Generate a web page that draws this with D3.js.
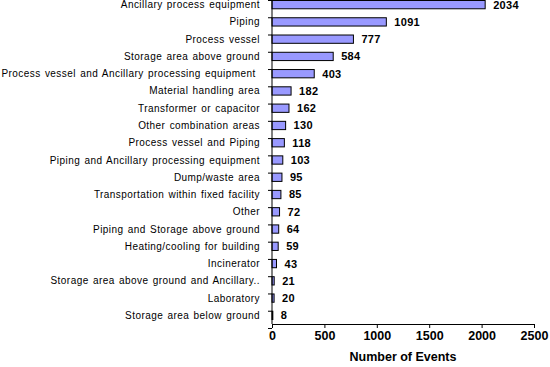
<!DOCTYPE html>
<meta charset="utf-8">
<style>
body { margin: 0; background: #fff; }
svg text { font-family: "Liberation Sans", Arial, sans-serif; fill: #000; }
.cat text { font-size: 10px; letter-spacing: 0.45px; word-spacing: 1px; }
.val { font-size: 11px; font-weight: bold; letter-spacing: 0.3px; }
.xax text { font-size: 12.5px; font-weight: bold; }
.bar { fill: #9999ff; stroke: #000; stroke-width: 1px; }
</style>
<body>
<script src="https://d3js.org/d3.v7.min.js"></script>
<svg id="chart" width="550" height="367"></svg>
<script>
// data
var categories = ["Ancillary process equipment", "Piping", "Process vessel", "Storage area above ground",
  "Process vessel and Ancillary processing equipment ", "Material handling area", "Transformer or capacitor",
  "Other combination areas", "Process vessel and Piping", "Piping and Ancillary processing equipment",
  "Dump/waste area", "Transportation within fixed facility", "Other", "Piping and Storage above ground",
  "Heating/cooling for building", "Incinerator", "Storage area above ground and Ancillary..",
  "Laboratory", "Storage area below ground"];
var events = [2034, 1091, 777, 584, 403, 182, 162, 130, 118, 103, 95, 85, 72, 64, 59, 43, 21, 20, 8];
var xTicks = [0, 500, 1000, 1500, 2000, 2500];

var margin = {top: -4, left: 272, right: 16, bottom: 43};
var width = 550 - margin.left - margin.right,
    height = 367 - margin.top - margin.bottom;

var svg = d3.select('#chart').append('g')
    .attr('transform', 'translate(' + margin.left + ',' + margin.top + ')');

var x = d3.scaleLinear().domain([0, 2500]).range([0, width]);
var y = d3.scaleBand().domain(categories).range([0, height]).paddingInner(0.52).paddingOuter(0.26);

// bars
svg.selectAll('.bar').data(events).enter().append('rect')
  .attr('class', 'bar')
  .attr('x', 0)
  .attr('y', function(d, i) { return y(categories[i]); })
  .attr('width', function(d) { return x(d); })
  .attr('height', y.bandwidth());

// value labels
svg.selectAll('.val').data(events).enter().append('text')
  .attr('class', 'val')
  .attr('x', function(d) { return x(d) + 8; })
  .attr('y', function(d, i) { return y(categories[i]) + y.bandwidth() / 2; })
  .attr('dy', '0.36em')
  .text(function(d) { return d; });

// left axis: ticks between categories
var yAx = svg.append('g').attr('class', 'cat');
yAx.append('line').attr('x1', 0).attr('x2', 0).attr('y1', 0).attr('y2', height).attr('stroke', '#000');
var step = y.step();
var edges = d3.range(categories.length + 1).map(function(i) { return y(categories[0]) - y.paddingOuter() * step + step * y.paddingInner() / 2 + i * step; });
yAx.selectAll('.tk').data(edges).enter().append('line')
  .attr('x1', -4).attr('x2', 0)
  .attr('y1', function(d) { return d; }).attr('y2', function(d) { return d; })
  .attr('stroke', '#000');
yAx.selectAll('.lab').data(categories).enter().append('text')
  .attr('x', -12)
  .attr('y', function(d) { return y(d) + y.bandwidth() / 2; })
  .attr('dy', '0.35em')
  .attr('text-anchor', 'end')
  .style('white-space', 'pre')
  .text(function(d) { return d; });

// bottom axis
var xAx = svg.append('g').attr('class', 'xax')
  .attr('transform', 'translate(0,' + height + ')')
  .call(d3.axisBottom(x).tickValues(xTicks).tickSize(4).tickPadding(3).tickFormat(d3.format('d')));
xAx.select('.domain').attr('stroke', '#000');
xAx.selectAll('text').attr('font-family', null).attr('font-size', null);

svg.append('text')
  .attr('x', width / 2)
  .attr('y', height + 37)
  .attr('text-anchor', 'middle')
  .style('font-size', '12.5px')
  .style('font-weight', 'bold')
  .text('Number of Events');
</script>
</body>
